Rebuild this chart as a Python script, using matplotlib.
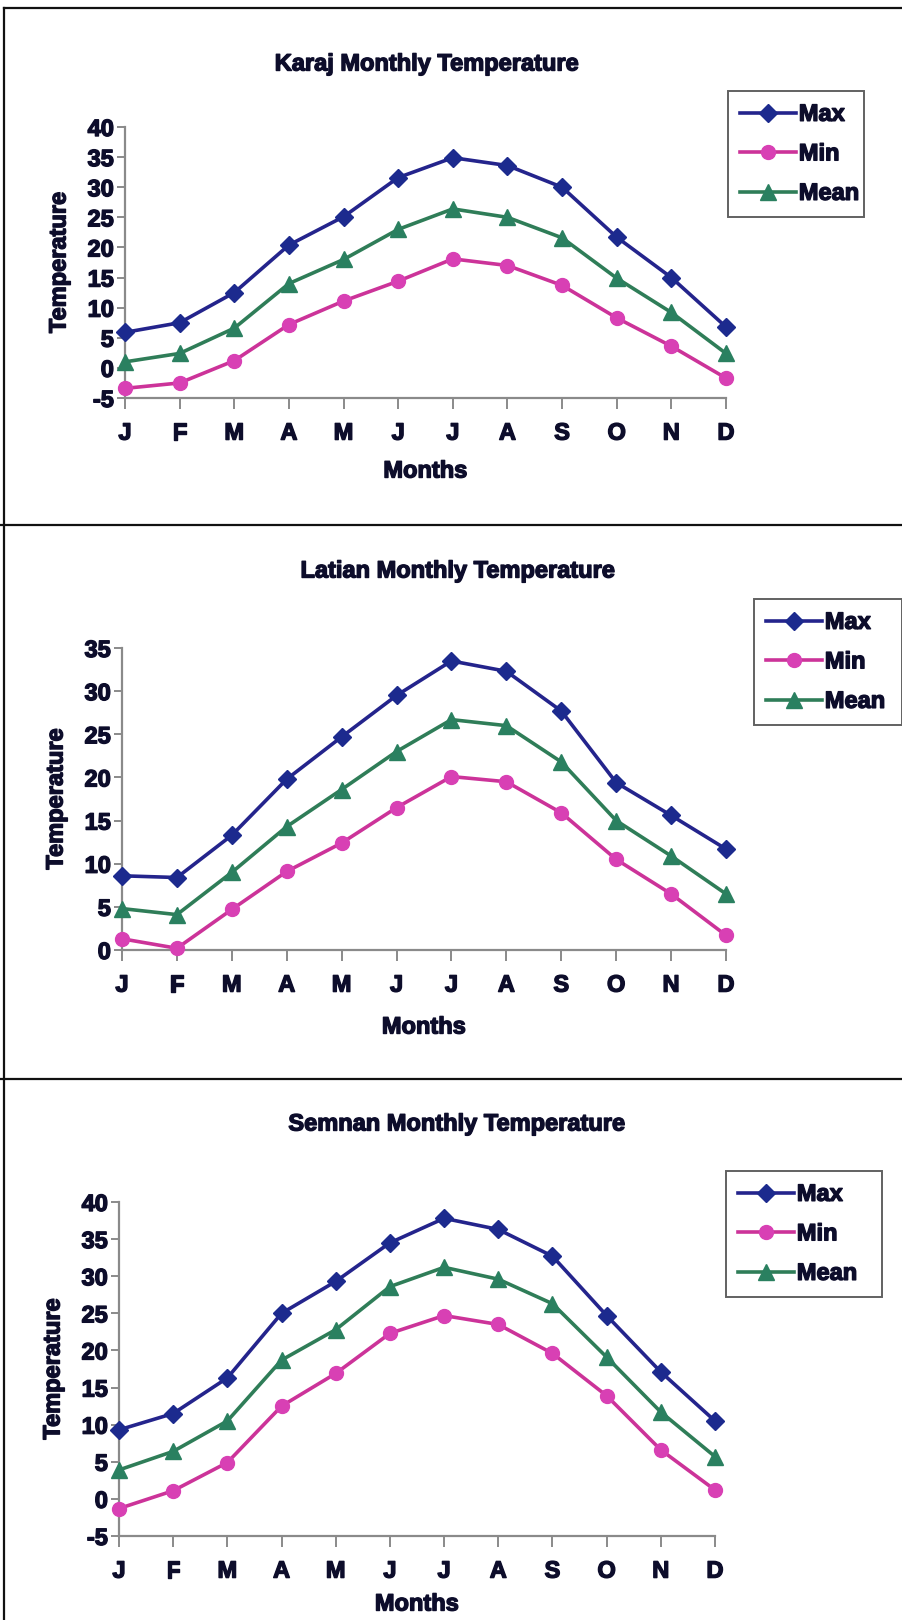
import matplotlib
matplotlib.use("Agg")
import matplotlib.pyplot as plt
from matplotlib.lines import Line2D
import matplotlib.patheffects as pe

plt.rcParams['font.family'] = ['Liberation Sans', 'DejaVu Sans']
plt.rcParams['font.weight'] = 'bold'
plt.rcParams['axes.unicode_minus'] = False

months = ["J", "F", "M", "A", "M", "J", "J", "A", "S", "O", "N", "D"]

karaj_max = [5.9, 7.5, 12.5, 20.4, 25.1, 31.6, 34.9, 33.6, 30.0, 21.7, 15.0, 6.8]
karaj_min = [-3.4, -2.5, 1.2, 7.2, 11.1, 14.4, 18.1, 17.0, 13.7, 8.3, 3.6, -1.7]
karaj_mean = [1.0, 2.4, 6.6, 14.0, 18.0, 23.0, 26.4, 25.0, 21.6, 14.9, 9.2, 2.4]

latian_max = [8.6, 8.4, 13.3, 19.8, 24.7, 29.5, 33.5, 32.3, 27.7, 19.4, 15.6, 11.7]
latian_min = [1.3, 0.2, 4.7, 9.1, 12.4, 16.5, 20.1, 19.5, 15.9, 10.5, 6.5, 1.7]
latian_mean = [4.8, 4.1, 9.0, 14.3, 18.6, 23.0, 26.7, 26.0, 21.8, 15.0, 10.9, 6.5]

semnan_max = [9.3, 11.5, 16.3, 25.0, 29.3, 34.5, 37.8, 36.3, 32.7, 24.7, 17.1, 10.5]
semnan_min = [-1.3, 1.1, 4.9, 12.5, 16.9, 22.3, 24.7, 23.5, 19.6, 13.9, 6.6, 1.2]
semnan_mean = [3.9, 6.4, 10.5, 18.7, 22.8, 28.6, 31.2, 29.6, 26.3, 19.1, 11.7, 5.7]

titles = ["Karaj Monthly Temperature", "Latian Monthly Temperature",
          "Semnan Monthly Temperature"]
series_names = ["Max", "Min", "Mean"]

W, H = 902, 1620
fig = plt.figure(figsize=(W / 100, H / 100), dpi=100)
fig.patch.set_facecolor("white")

TXT = "#0d0d2b"
FS = 17
HEAVY = [pe.withStroke(linewidth=1.0, foreground=TXT)]
C_MAX, C_MAX_M = "#24248c", "#1c2a8e"
C_MIN, C_MIN_M = "#cc3399", "#d840b4"
C_MEAN, C_MEAN_M = "#2f7d58", "#2a8060"


def px_axes(left, right, top, bottom):
    return fig.add_axes([left / W, 1 - bottom / H, (right - left) / W, (bottom - top) / H])


panels = [
    dict(box=(125, 726, 127, 398), ylim=(-5, 40), data=(karaj_max, karaj_min, karaj_mean),
         title_y=64, title_x=427, xlab_y=471, ylab_x=59,
         leg=(728, 864, 91, 215)),
    dict(box=(122, 726, 648, 950), ylim=(0, 35), data=(latian_max, latian_min, latian_mean),
         title_y=571, title_x=458, xlab_y=1027, ylab_x=56,
         leg=(754, 902, 599, 713)),
    dict(box=(119, 715, 1202, 1536), ylim=(-5, 40), data=(semnan_max, semnan_min, semnan_mean),
         title_y=1124, title_x=457, xlab_y=1604, ylab_x=53,
         leg=(726, 882, 1171, 1284)),
]

for p, title in zip(panels, titles):
    l, r, t, b = p["box"]
    ax = px_axes(l, r, t, b)
    ax.set_facecolor("none")
    x = list(range(len(months)))
    mx, mn, me = p["data"]
    ax.plot(x, mx, color=C_MAX, lw=2.6, marker="D", ms=9, mfc=C_MAX_M, mec=C_MAX_M,
            label=series_names[0], clip_on=False, zorder=3)
    ax.plot(x, mn, color=C_MIN, lw=2.6, marker="o", ms=10, mfc=C_MIN_M, mec=C_MIN_M,
            label=series_names[1], clip_on=False, zorder=3)
    ax.plot(x, me, color=C_MEAN, lw=2.6, marker="^", ms=11, mfc=C_MEAN_M, mec=C_MEAN_M,
            label=series_names[2], clip_on=False, zorder=3)
    ax.set_xlim(0, len(months) - 1)
    ax.set_ylim(*p["ylim"])
    ax.set_yticks(range(p["ylim"][0], p["ylim"][1] + 1, 5))
    ax.set_xticks(x)
    ax.set_xticklabels(months)
    for s in ("top", "right"):
        ax.spines[s].set_visible(False)
    for s in ("left", "bottom"):
        ax.spines[s].set_color("#8a8a8a")
        ax.spines[s].set_linewidth(1.6)
    ax.tick_params(axis="y", length=6, width=1.4, color="#8a8a8a", labelsize=FS,
                   labelcolor=TXT, pad=2)
    ax.tick_params(axis="x", length=8, width=1.4, color="#8a8a8a", labelsize=FS,
                   labelcolor=TXT, pad=9)
    for lab in ax.get_xticklabels() + ax.get_yticklabels():
        lab.set_fontweight("bold")
        lab.set_path_effects(HEAVY)

    fig.text(p["title_x"] / W, 1 - p["title_y"] / H, title, ha="center", va="center",
             fontsize=FS, fontweight="bold", color=TXT, path_effects=HEAVY)
    fig.text(((l + r) / 2) / W, 1 - p["xlab_y"] / H, "Months", ha="center", va="center",
             fontsize=FS, fontweight="bold", color=TXT, path_effects=HEAVY)
    fig.text(p["ylab_x"] / W, 1 - ((t + b) / 2) / H, "Temperature", ha="center",
             va="center", rotation=90, fontsize=FS, fontweight="bold", color=TXT,
             path_effects=HEAVY)

    ll, lr, lt, lb = p["leg"]
    leg = ax.legend(loc="upper left",
                    bbox_to_anchor=(ll / W, 1 - lb / H, (lr - ll) / W, (lb - lt) / H),
                    bbox_transform=fig.transFigure, mode="expand",
                    frameon=True, fancybox=False, fontsize=FS, labelspacing=0.7,
                    handlelength=2.4, handletextpad=0.1, borderpad=0.5,
                    borderaxespad=0, markerscale=1.0)
    leg.get_frame().set_edgecolor("#3a3a3a")
    leg.get_frame().set_linewidth(1.4)
    for txt in leg.get_texts():
        txt.set_color(TXT)
        txt.set_fontweight("bold")
        txt.set_path_effects(HEAVY)

# panel frames
frame_kw = dict(color="#111111", lw=1.6, transform=fig.transFigure)
fig.add_artist(Line2D([4 / W, 1.0], [1 - 8 / H, 1 - 8 / H], **frame_kw))
fig.add_artist(Line2D([4 / W, 4 / W], [1 - 8 / H, 0], **frame_kw))
for yy in (525, 1079):
    fig.add_artist(Line2D([0, 1.0], [1 - yy / H, 1 - yy / H], **frame_kw))

fig.savefig("out.png", dpi=100, facecolor="white")
